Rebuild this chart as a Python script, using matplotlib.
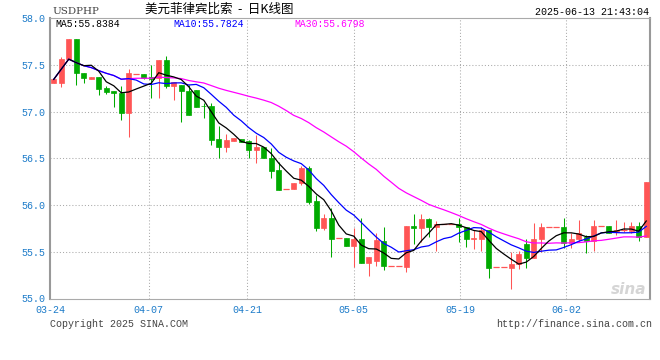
import numpy as np
import pandas as pd
import matplotlib
matplotlib.use("Agg")
import matplotlib.pyplot as plt

# 日K数据, 红涨绿跌
opens = [57.302, 57.302, 57.558, 57.775, 57.415, 57.348, 57.372, 57.248, 57.222, 57.195,
         56.987, 57.404, 57.404, 57.372, 57.355, 57.551, 57.276, 57.283, 57.222, 57.230,
         57.062, 57.062, 56.706, 56.624, 56.688, 56.706, 56.684, 56.588, 56.620, 56.503,
         56.374, 56.168, 56.166, 56.235, 56.396, 56.043, 55.754, 55.861, 55.642, 55.642,
         55.561, 55.636, 55.380, 55.401, 55.615, 55.348, 55.348, 55.337, 55.775, 55.754,
         55.850, 55.768, 55.794, 55.794, 55.794, 55.768, 55.633, 55.636, 55.733, 55.334,
         55.334, 55.329, 55.366, 55.580, 55.436, 55.633, 55.762, 55.762, 55.762, 55.590,
         55.633, 55.661, 55.618, 55.775, 55.775, 55.708, 55.733, 55.725, 55.775, 55.661]
highs = [57.344, 57.586, 57.775, 57.775, 57.415, 57.366, 57.372, 57.273, 57.222, 57.273,
         57.451, 57.404, 57.404, 57.497, 57.551, 57.594, 57.316, 57.283, 57.283, 57.230,
         57.094, 57.094, 56.845, 56.756, 56.713, 56.706, 56.695, 56.749, 56.620, 56.610,
         56.460, 56.168, 56.235, 56.417, 56.417, 56.107, 55.904, 55.968, 55.642, 55.642,
         55.754, 55.861, 55.444, 55.701, 55.765, 55.348, 55.348, 55.775, 55.904, 55.904,
         55.864, 55.832, 55.794, 55.794, 55.864, 55.768, 55.733, 55.768, 55.733, 55.334,
         55.334, 55.500, 55.508, 55.636, 55.804, 55.811, 55.762, 55.762, 55.858, 55.697,
         55.840, 55.679, 55.840, 55.775, 55.775, 55.840, 55.815, 55.821, 55.821, 56.243]
lows = [57.302, 57.265, 57.558, 57.283, 57.308, 57.348, 57.176, 57.184, 57.051, 56.909,
        56.724, 57.404, 57.344, 57.141, 57.141, 57.248, 57.123, 56.891, 56.963, 57.051,
        56.927, 56.642, 56.499, 56.570, 56.688, 56.671, 56.503, 56.449, 56.503, 56.289,
        56.160, 56.168, 56.166, 56.214, 56.011, 55.722, 55.733, 55.444, 55.642, 55.561,
        55.337, 55.380, 55.241, 55.348, 55.305, 55.348, 55.348, 55.283, 55.583, 55.604,
        55.661, 55.511, 55.794, 55.794, 55.608, 55.554, 55.529, 55.511, 55.216, 55.334,
        55.334, 55.102, 55.316, 55.329, 55.430, 55.500, 55.762, 55.762, 55.537, 55.537,
        55.608, 55.490, 55.511, 55.775, 55.697, 55.679, 55.714, 55.704, 55.618, 55.661]
closes = [57.344, 57.561, 57.775, 57.409, 57.362, 57.366, 57.244, 57.209, 57.195, 56.987,
          57.409, 57.404, 57.362, 57.348, 57.551, 57.276, 57.312, 57.222, 56.963, 57.051,
          57.056, 56.695, 56.624, 56.695, 56.713, 56.671, 56.588, 56.620, 56.503, 56.364,
          56.160, 56.168, 56.235, 56.401, 56.032, 55.754, 55.861, 55.636, 55.642, 55.561,
          55.636, 55.380, 55.444, 55.626, 55.348, 55.348, 55.348, 55.775, 55.754, 55.850,
          55.768, 55.797, 55.794, 55.794, 55.768, 55.633, 55.650, 55.733, 55.329, 55.334,
          55.334, 55.369, 55.473, 55.436, 55.636, 55.762, 55.762, 55.762, 55.590, 55.636,
          55.697, 55.618, 55.779, 55.775, 55.697, 55.733, 55.733, 55.775, 55.661, 56.243]

tick_idx = [0, 13, 26, 40, 54, 68]
tick_labels = ["03-24", "04-07", "04-21", "05-05", "05-19", "06-02"]
ytick_vals = [55.0, 55.5, 56.0, 56.5, 57.0, 57.5, 58.0]

ma_last = {"MA5": 55.8384, "MA10": 55.7824, "MA30": 55.6798}

W, H = 660, 360
RED = "#ff5555"
GREEN = "#00aa00"
BLUE_TXT = "#1c7bc9"
MONO = "Liberation Mono"

df = pd.DataFrame({"open": opens, "high": highs, "low": lows, "close": closes})
n = len(df)
x = np.arange(n)
ma5 = df["close"].rolling(5, min_periods=1).mean()
ma10 = df["close"].rolling(10, min_periods=1).mean()
ma30 = df["close"].rolling(30, min_periods=1).mean()

fig = plt.figure(figsize=(W / 100, H / 100), dpi=100)
fig.patch.set_facecolor("white")
ax = fig.add_axes([50 / W, (H - 298.5) / H, 600 / W, 280.5 / H])

def fx(px):
    return px / W

def fy(py):
    return 1 - py / H

# 网格
grid_kw = dict(color="#aaaaaa", linewidth=0.75, linestyle=(0, (1, 2)), zorder=0)
for v in ytick_vals[1:-1]:
    ax.axhline(v, **grid_kw)
# 日期刻度位置 (新浪按 n-1 等分)
tick_pos = [i * n / (n - 1) - 0.5 for i in tick_idx]
for p in tick_pos[1:]:
    ax.axvline(p, **grid_kw)

# K线
up = df["close"] >= df["open"]
cols = np.where(up, RED, GREEN)
ax.vlines(x, df["low"], df["high"], colors=cols, linewidth=0.75, zorder=2)
body_lo = np.minimum(df["open"], df["close"])
body_h = np.abs(df["close"] - df["open"])
ax.bar(x, body_h, bottom=body_lo, width=0.72, color=cols, edgecolor=cols,
       linewidth=0.5, zorder=3)
flat = body_h < 0.004
ax.hlines(df["close"][flat], x[flat] - 0.4, x[flat] + 0.4, colors=RED,
          linewidth=0.9, zorder=3)

# 均线
ax.plot(x, ma30, color="#ff00ff", linewidth=0.9, zorder=4)
ax.plot(x, ma10, color="#0000ff", linewidth=0.9, zorder=5)
ax.plot(x, ma5, color="black", linewidth=0.9, zorder=6)

ax.set_xlim(-0.5, n - 0.5)
ax.set_ylim(55.0, 58.0)
ax.set_xticks(tick_pos)
ax.set_xticklabels(tick_labels, family=MONO, fontsize=7.2, color=BLUE_TXT)
ax.set_yticks(ytick_vals)
ax.set_yticklabels([f"{v:.1f}" for v in ytick_vals], family=MONO, fontsize=7.2,
                   color=BLUE_TXT)
ax.tick_params(axis="both", length=0)
ax.tick_params(axis="x", pad=5)
ax.tick_params(axis="y", pad=3)

for side in ["left", "right"]:
    ax.spines[side].set_color("#999999")
    ax.spines[side].set_linewidth(1.5)
for side in ["top", "bottom"]:
    ax.spines[side].set_color("#aaaaaa")
    ax.spines[side].set_linewidth(0.8)

# 文字
fig.text(fx(52), fy(11), "USDPHP", family="DejaVu Serif", fontsize=7.5, color="#444444",
         va="center", ha="left")
fig.text(fx(219), fy(9), "美元菲律宾比索  -  日K线图",
         family=["Noto Sans CJK SC", "DejaVu Sans"], fontsize=9, color="black",
         va="center", ha="center")
fig.text(fx(649), fy(12), "2025-06-13 21:43:04", family=MONO, fontsize=7.2,
         color="black", va="center", ha="right")

fig.text(fx(55), fy(24), f"MA5:{ma_last['MA5']:.4f}", family=MONO, fontsize=7,
         color="black", va="center", ha="left")
fig.text(fx(173), fy(24), f"MA10:{ma_last['MA10']:.4f}", family=MONO, fontsize=7,
         color="#0000ff", va="center", ha="left")
fig.text(fx(294), fy(24), f"MA30:{ma_last['MA30']:.4f}", family=MONO, fontsize=7,
         color="#ff00ff", va="center", ha="left")

fig.text(fx(50), fy(324), "Copyright 2025 SINA.COM", family=MONO, fontsize=7.2,
         color="#444444", va="center", ha="left")
fig.text(fx(652), fy(324), "http://finance.sina.com.cn", family=MONO, fontsize=7.2,
         color="#444444", va="center", ha="right")

fig.text(fx(646), fy(290), "sina", family="DejaVu Sans", fontsize=11, style="italic",
         weight="bold", color="#d5d5d5", va="center", ha="right", zorder=1)

fig.savefig("out.png", dpi=100, facecolor="white")
